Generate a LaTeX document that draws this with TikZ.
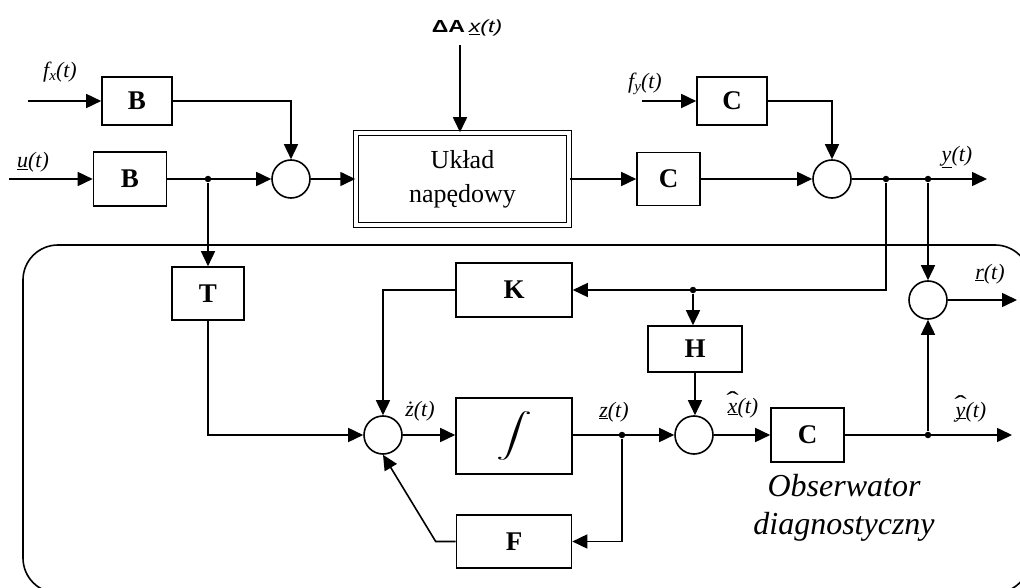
\documentclass[tikz,border=0pt]{standalone}
\usepackage{fontspec}
\usepackage{graphicx}
\setmainfont{Liberation Serif}
\newfontfamily\sansf{Liberation Sans}
\usetikzlibrary{arrows.meta,calc}
\newcommand{\hatlet}[1]{\ooalign{\itshape #1\cr\hidewidth\raisebox{0.2em}{\scalebox{1.7}[1.1]{\upshape\char"02C6}}\hidewidth\cr}}
\begin{document}
\begin{tikzpicture}[x=1pt,y=-1pt, line width=1.6pt,
  blk/.style={draw, line width=1.6pt, inner sep=0pt, font=\fontsize{27}{27}\selectfont\bfseries},
  sumc/.style={circle, draw, line width=1.6pt, minimum size=38pt, inner sep=0pt},
  jdot/.style={circle, fill, inner sep=0pt, minimum size=6.5pt},
  arr/.style={-{Triangle[length=15pt,width=14pt]}},
  lbl/.style={font=\fontsize{22}{22}\selectfont\itshape, inner sep=0pt},
  obs/.style={font=\fontsize{32}{38}\selectfont\itshape, inner sep=0pt, align=center}]
\path[use as bounding box] (0,0) rectangle (1020,588);
\clip (0,0) rectangle (1020,588);

% observer frame
\draw[rounded corners=35pt] (23,245) rectangle (1030,593);

% blocks
\node[blk, minimum width=70pt, minimum height=48pt] (B1) at (137,101) {B};
\node[blk, minimum width=73pt, minimum height=54pt] (B2) at (130,179) {B};
\node[sumc] (S1) at (291,179) {};
\node[draw, double, double distance=3.5pt, line width=1.5pt, minimum width=213pt, minimum height=92pt,
      align=center, font=\fontsize{26}{34}\selectfont] (SYS) at (462.5,179) {Układ\\napędowy};
\node[blk, minimum width=63pt, minimum height=53pt] (CM) at (668.5,179) {C};
\node[blk, minimum width=70pt, minimum height=48pt] (CT) at (732,101) {C};
\node[sumc] (S2) at (832,179) {};

\node[blk, minimum width=72pt, minimum height=53pt] (T) at (208,293.5) {T};
\node[blk, minimum width=116pt, minimum height=54pt] (K) at (514,290) {K};
\node[blk, minimum width=116pt, minimum height=76pt] (INT) at (514,436) {\scalebox{3.6}[2.2]{$\displaystyle\int$}};
\node[blk, minimum width=115pt, minimum height=53pt] (F) at (514,541.5) {F};
\node[sumc] (S3) at (383,435) {};
\node[blk, minimum width=94pt, minimum height=46pt] (H) at (695,349) {H};
\node[sumc] (S4) at (694,435) {};
\node[blk, minimum width=73pt, minimum height=54pt] (CO) at (807.5,435) {C};
\node[sumc] (S5) at (928,300) {};

% junction dots
\node[jdot] (d1) at (208,179) {};
\node[jdot] (d2) at (886,179) {};
\node[jdot] (d3) at (928,179) {};
\node[jdot] (d4) at (693,290) {};
\node[jdot] (d5) at (622,435) {};
\node[jdot] (d6) at (928,435) {};

% free ends
\coordinate (fxin) at (28,101);
\coordinate (uin) at (9,179);
\coordinate (dain) at (460,45);
\coordinate (fyin) at (642,101);
\coordinate (yout) at (987,179);
\coordinate (rout) at (1017,300);
\coordinate (yhout) at (1012,435);

% top path
\draw[arr] (fxin) -- (B1.west);
\draw[arr] (B1.east) -| (S1.north);
\draw[arr] (uin) -- (B2.west);
\draw[arr] (B2.east) -- (S1.west);
\draw[arr] (S1.east) -- (SYS.west);
\draw[arr] (dain) -- (dain |- SYS.north);
\draw[arr] (SYS.east) -- (CM.west);
\draw[arr] (fyin) -- (CT.west);
\draw[arr] (CT.east) -| (S2.north);
\draw[arr] (CM.east) -- (S2.west);
\draw[arr] (S2.east) -- (yout);

% observer
\draw[arr] (d1) -- (T.north);
\draw[arr] (T.south) |- (S3.west);
\draw[arr] (d2) |- (K.east);
\draw[arr] (d4) -- (d4 |- H.north);
\draw[arr] (H.south) -- (H.south |- S4.north);
\draw[arr] (K.west) -| (S3.north);
\draw[arr] (S3.east) -- (INT.west |- S3.east);
\draw[arr] (INT.east |- S4.west) -- (S4.west);
\draw[arr] (d5) |- (F.east);
\draw[arr] (F.west) -- ++(-20,0) -- (S3.south);
\draw[arr] (S4.east) -- (CO.west);
\draw[arr] (CO.east) -- (yhout);
\draw[arr] (d6) -- (S5.south);
\draw[arr] (d3) -- (S5.north);
\draw[arr] (S5.east) -- (rout);

% labels
\node[lbl] (lfx) at (60,72) {f\raisebox{-0.35ex}{\fontsize{15}{15}\selectfont x}(t)};
\node[lbl] (lu) at (33,162) {\underline{u}(t)};
\node[inner sep=0pt, font=\fontsize{17.5}{17.5}\selectfont] (lda) at (467,28) {\scalebox{1.32}[1]{{\sansf\bfseries ΔA}\,{\sansf\itshape\underline{x}(t)}}};
\node[lbl] (lfy) at (645,84) {f\raisebox{-0.35ex}{\fontsize{15}{15}\selectfont y}(t)};
\node[lbl] (ly) at (957,157) {\underline{y}(t)};
\node[lbl] (lzd) at (420,411) {\.{z}(t)};
\node[lbl] (lz) at (614,412) {\underline{z}(t)};
\node[lbl] (lxh) at (743,408) {\underline{\hatlet{x}}(t)};
\node[lbl] (lyh) at (971,412) {\underline{\hatlet{y}}(t)};
\node[lbl] (lr) at (990,274) {\underline{r}(t)};
\node[obs] (lobs) at (844,508) {Obserwator\\diagnostyczny};
\end{tikzpicture}
\end{document}
